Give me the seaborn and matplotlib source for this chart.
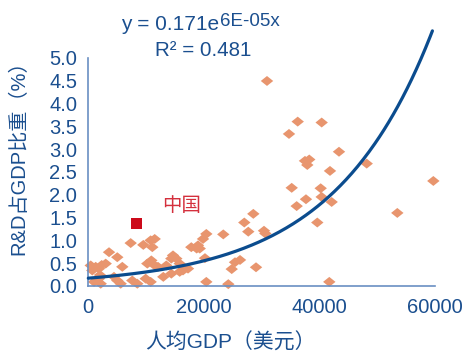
import numpy as np
import pandas as pd
import matplotlib
matplotlib.use("Agg")
import matplotlib.pyplot as plt
import seaborn as sns

# Per-capita GDP (USD) and R&D spending as share of GDP (%) by country
gdp_per_capita = [
    420, 1280, 690, 1850, 990, 2150, 1850, 2030, 2320, 3010, 3590, 5020,
    5890, 4450, 5020, 5610, 7620, 8490, 9940, 10800, 7340, 9530, 10800,
    11090, 10220, 11500, 10920, 11500, 12070, 13510, 14670, 15240, 14380,
    15830, 17270, 16400, 15830, 14380, 12990, 17840, 19000, 19300, 19870,
    20440, 20440, 20210, 23380, 25410, 26280, 24840, 29050, 24250, 27020,
    27710, 28580, 30430, 30660, 30950, 34760, 36270, 40420, 43420, 37530,
    38270, 37930, 41860, 48220, 35230, 40250, 37700, 36090, 40420, 42150,
    39660, 41740, 59760, 53520, 18770,
]
rd_share = [
    0.45, 0.42, 0.34, 0.38, 0.09, 0.05, 0.16, 0.24, 0.46, 0.49, 0.74, 0.63,
    0.42, 0.20, 0.12, 0.05, 0.12, 0.05, 0.16, 0.09, 0.94, 0.90, 1.00,
    0.85, 0.49, 1.03, 0.56, 0.45, 0.42, 0.45, 0.67, 0.60, 0.60,
    0.49, 0.38, 0.34, 0.31, 0.27, 0.20, 0.85, 0.89, 0.82, 1.03,
    1.14, 0.09, 0.61, 1.13, 0.52, 0.57, 0.37, 0.41, 0.04, 1.39,
    1.19, 1.58, 1.21, 1.15, 4.49, 3.33, 3.60, 3.58, 2.94, 2.74,
    2.77, 2.65, 2.52, 2.68, 2.15, 2.14, 1.90, 1.75, 1.95, 1.84,
    1.39, 0.09, 2.30, 1.60, 0.82,
]

# China highlighted separately
china_gdp = [8380]
china_rd = [1.37]
china_label = "中国"

# Exponential trend y = a * exp(b * x)
fit_a = 0.171
fit_b = 5.85e-05
fit_r2 = 0.481

x_ticks = [0, 20000, 40000, 60000]
y_ticks = [0.0, 0.5, 1.0, 1.5, 2.0, 2.5, 3.0, 3.5, 4.0, 4.5, 5.0]

x_label = "人均GDP（美元）"
y_label = "R&D占GDP比重（%）"

dark_blue = "#1B4F8F"
line_blue = "#0B4C8E"
spine_blue = "#6A8FC2"
point_color = "#E8956E"
china_red = "#CC0A1A"

sns.set_style("white")
plt.rcParams["font.family"] = ["Liberation Sans", "Noto Sans CJK SC", "DejaVu Sans"]

fig = plt.figure(figsize=(4.64, 3.55), dpi=100)
ax = fig.add_axes([0.1903, 0.1944, 0.7466, 0.6431])

pts = pd.DataFrame({"gdp": gdp_per_capita, "rd": rd_share})
diamond = [(-1.0, 0.0), (0.0, 0.8), (1.0, 0.0), (0.0, -0.8), (-1.0, 0.0)]
sns.scatterplot(data=pts, x="gdp", y="rd", ax=ax, marker=diamond, s=80,
                color=point_color, edgecolor="none", linewidth=0,
                clip_on=False, zorder=2, legend=False)

curve_x = np.linspace(0, 59600, 300)
curve = pd.DataFrame({"gdp": curve_x, "rd": fit_a * np.exp(fit_b * curve_x)})
sns.lineplot(data=curve, x="gdp", y="rd", ax=ax, color=line_blue,
             linewidth=2.3, clip_on=False, zorder=3)

china = pd.DataFrame({"gdp": china_gdp, "rd": china_rd})
sns.scatterplot(data=china, x="gdp", y="rd", ax=ax, marker="s", s=70,
                color=china_red, edgecolor="none", linewidth=0,
                zorder=4, legend=False)
ax.text(16080, 1.77, china_label, color="#D4303D", fontsize=14,
        ha="center", va="center", family=["Noto Sans CJK SC", "DejaVu Sans"])

ax.set_xlim(0, 60000)
ax.set_ylim(0, 5.0)
ax.set_xticks(x_ticks)
ax.set_yticks(y_ticks)
ax.set_xticklabels([str(v) for v in x_ticks])
ax.set_yticklabels([f"{v:.1f}" for v in y_ticks])

for side in ("top", "right"):
    ax.spines[side].set_visible(False)
for side in ("left", "bottom"):
    ax.spines[side].set_color(spine_blue)
    ax.spines[side].set_linewidth(1.2)

ax.tick_params(axis="both", direction="in", length=5, width=1.0,
               color=spine_blue, labelcolor=dark_blue, labelsize=14.5)
ax.tick_params(axis="x", pad=9)
ax.tick_params(axis="y", pad=8)

ax.set_xlabel(x_label, fontsize=15, color=dark_blue)
ax.xaxis.set_label_coords(0.41, -0.205)
ax.set_ylabel(y_label, fontsize=14.5, color=dark_blue)
ax.yaxis.set_label_coords(-0.172, 0.585)

W, H = 464.0, 355.0
fig.text(120.7 / W, 1 - 30 / H, "y = 0.171e", fontsize=15, color=dark_blue,
         ha="left", va="baseline")
fig.text(220.5 / W, 1 - 25.5 / H, "6E-05x", fontsize=13.5, color=dark_blue,
         ha="left", va="baseline")
fig.text(155 / W, 1 - 56 / H, f"R² = {fit_r2}", fontsize=14.8, color=dark_blue,
         ha="left", va="baseline")

fig.savefig("out.png", dpi=100)
